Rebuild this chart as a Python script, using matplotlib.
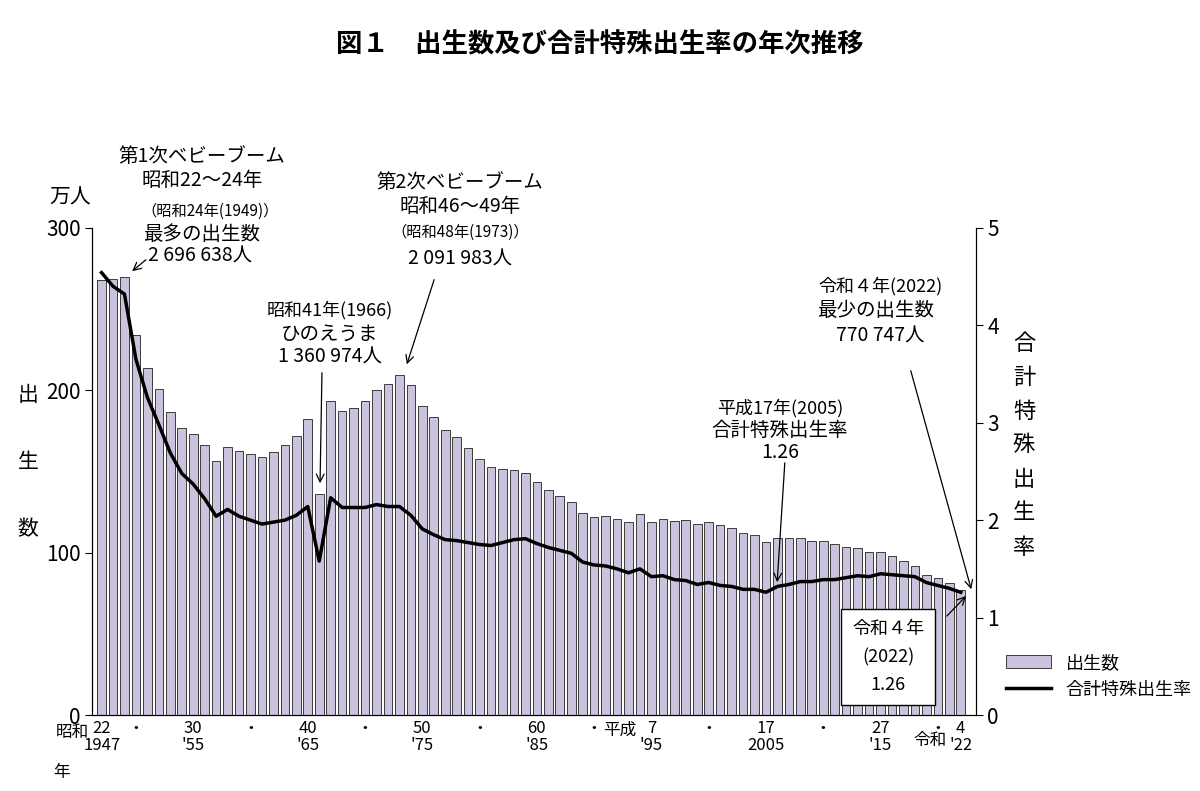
import matplotlib
matplotlib.use("Agg")
import matplotlib.pyplot as plt
from matplotlib.patches import FancyArrowPatch

plt.rcParams['font.family'] = ['Noto Sans CJK JP', 'DejaVu Sans']

years = list(range(1947, 2023))
births = [267.9, 268.2, 269.7, 233.8, 213.8, 200.5, 186.8, 177.0, 173.1, 166.5,
          156.7, 165.3, 162.6, 160.6, 158.9, 161.9, 166.0, 171.7, 182.4, 136.1,
          193.6, 187.2, 188.9, 193.4, 200.1, 203.9, 209.2, 203.0, 190.1, 183.3,
          175.5, 170.9, 164.3, 157.7, 152.9, 151.5, 150.9, 149.0, 143.2, 138.3,
          134.7, 131.4, 124.7, 122.2, 122.3, 120.9, 118.8, 123.8, 118.7, 120.7,
          119.2, 120.3, 117.8, 119.1, 117.1, 115.4, 112.4, 111.1, 106.3, 109.3,
          109.0, 109.1, 107.0, 107.1, 105.1, 103.7, 103.0, 100.4, 100.6, 97.7,
          94.6, 91.8, 86.5, 84.1, 81.2, 77.1]
tfr = [4.54, 4.40, 4.32, 3.65, 3.26, 2.98, 2.69, 2.48, 2.37, 2.22,
       2.04, 2.11, 2.04, 2.00, 1.96, 1.98, 2.00, 2.05, 2.14, 1.58,
       2.23, 2.13, 2.13, 2.13, 2.16, 2.14, 2.14, 2.05, 1.91, 1.85,
       1.80, 1.79, 1.77, 1.75, 1.74, 1.77, 1.80, 1.81, 1.76, 1.72,
       1.69, 1.66, 1.57, 1.54, 1.53, 1.50, 1.46, 1.50, 1.42, 1.43,
       1.39, 1.38, 1.34, 1.36, 1.33, 1.32, 1.29, 1.29, 1.26, 1.32,
       1.34, 1.37, 1.37, 1.39, 1.39, 1.41, 1.43, 1.42, 1.45, 1.44,
       1.43, 1.42, 1.36, 1.33, 1.30, 1.26]

tick_years = [1947, 1950, 1955, 1960, 1965, 1970, 1975, 1980, 1985, 1990,
              1995, 2000, 2005, 2010, 2015, 2020, 2022]
tick_top = ['22', '・', '30', '・', '40', '・', '50', '・', '60', '・',
            '7', '・', '17', '・', '27', '・', '4']
tick_bot = ['1947', '', "'55", '', "'65", '', "'75", '', "'85", '',
            "'95", '', '2005', '', "'15", '', "'22"]

fig = plt.figure(figsize=(12, 7.91), dpi=100)
ax = fig.add_axes([0.077, 0.096, 0.736, 0.616])
ax2 = ax.twinx()

ax.bar(years, births, width=0.75, color='#cbc3de', edgecolor='#222222', linewidth=0.6,
       label='出生数')
ax2.plot(years, tfr, color='black', lw=2.5, label='合計特殊出生率')

ax.set_xlim(1946.2, 2023.3)
ax.set_ylim(0, 300)
ax.set_yticks([0, 100, 200, 300])
ax2.set_ylim(0, 5)
ax2.set_yticks(range(6))
for a in (ax, ax2):
    a.tick_params(labelsize=15, direction='out', length=5)
    a.spines['top'].set_visible(False)
ax.set_xticks(tick_years)
ax.set_xticklabels([t + '\n' + b for t, b in zip(tick_top, tick_bot)], fontsize=12,
                   linespacing=1.0)
ax.tick_params(axis='x', length=0)

def fx(px): return px / 1200
def fy(py): return 1 - py / 791

def t(px, py, s, size=13, **kw):
    fig.text(fx(px), fy(py), s, fontsize=size, ha='center', va='center', **kw)

t(600, 45, '図１　出生数及び合計特殊出生率の年次推移', 19, weight='bold')
t(70, 198, '万人', 15)
for i, c in enumerate('出生数'):
    t(28, 395 + i * 67, c, 15)
for i, c in enumerate('合計特殊出生率'):
    t(1024, 343 + i * 34, c, 16)
t(72, 733, '昭和', 12)
t(62, 772, '年', 12)
t(620, 730, '平成', 12)
t(930, 740, '令和', 12)

t(202, 157, '第1次ベビーブーム', 14)
t(202, 180, '昭和22～24年', 14)
t(210, 211, '（昭和24年(1949)）', 11)
t(202, 234, '最多の出生数', 14)
t(200, 256, '2 696 638人', 14)
t(460, 183, '第2次ベビーブーム', 14)
t(460, 207, '昭和46～49年', 14)
t(460, 232, '（昭和48年(1973)）', 11)
t(460, 259, '2 091 983人', 14)
t(330, 310, '昭和41年(1966)', 13)
t(330, 334, 'ひのえうま', 14)
t(330, 357, '1 360 974人', 14)
t(780, 408, '平成17年(2005)', 13)
t(780, 430, '合計特殊出生率', 14)
t(780, 452, '1.26', 14)
t(880, 286, '令和４年(2022)', 13)
t(876, 311, '最少の出生数', 14)
t(880, 336, '770 747人', 14)

fig.text(fx(888), fy(657), '令和４年\n(2022)\n1.26', fontsize=13, ha='center',
         va='center', linespacing=1.7,
         bbox=dict(boxstyle='square,pad=0.6', fc='white', ec='black', lw=1))

arrows = [((148, 258), (130, 273)), ((322, 370), (320, 486)),
          ((435, 277), (406, 367)), ((785, 460), (777, 585)),
          ((910, 368), (972, 592)), ((945, 618), (968, 594))]
for (x0, y0), (x1, y1) in arrows:
    fig.add_artist(FancyArrowPatch((fx(x0), fy(y0)), (fx(x1), fy(y1)),
                                   transform=fig.transFigure, arrowstyle='->',
                                   mutation_scale=14, lw=0.9, color='black'))

h1, l1 = ax.get_legend_handles_labels()
h2, l2 = ax2.get_legend_handles_labels()
fig.legend(h1 + h2, l1 + l2, loc='center left', bbox_to_anchor=(0.825, 0.145),
           frameon=False, fontsize=13, handlelength=2.5)

fig.savefig('out.png', dpi=100)
